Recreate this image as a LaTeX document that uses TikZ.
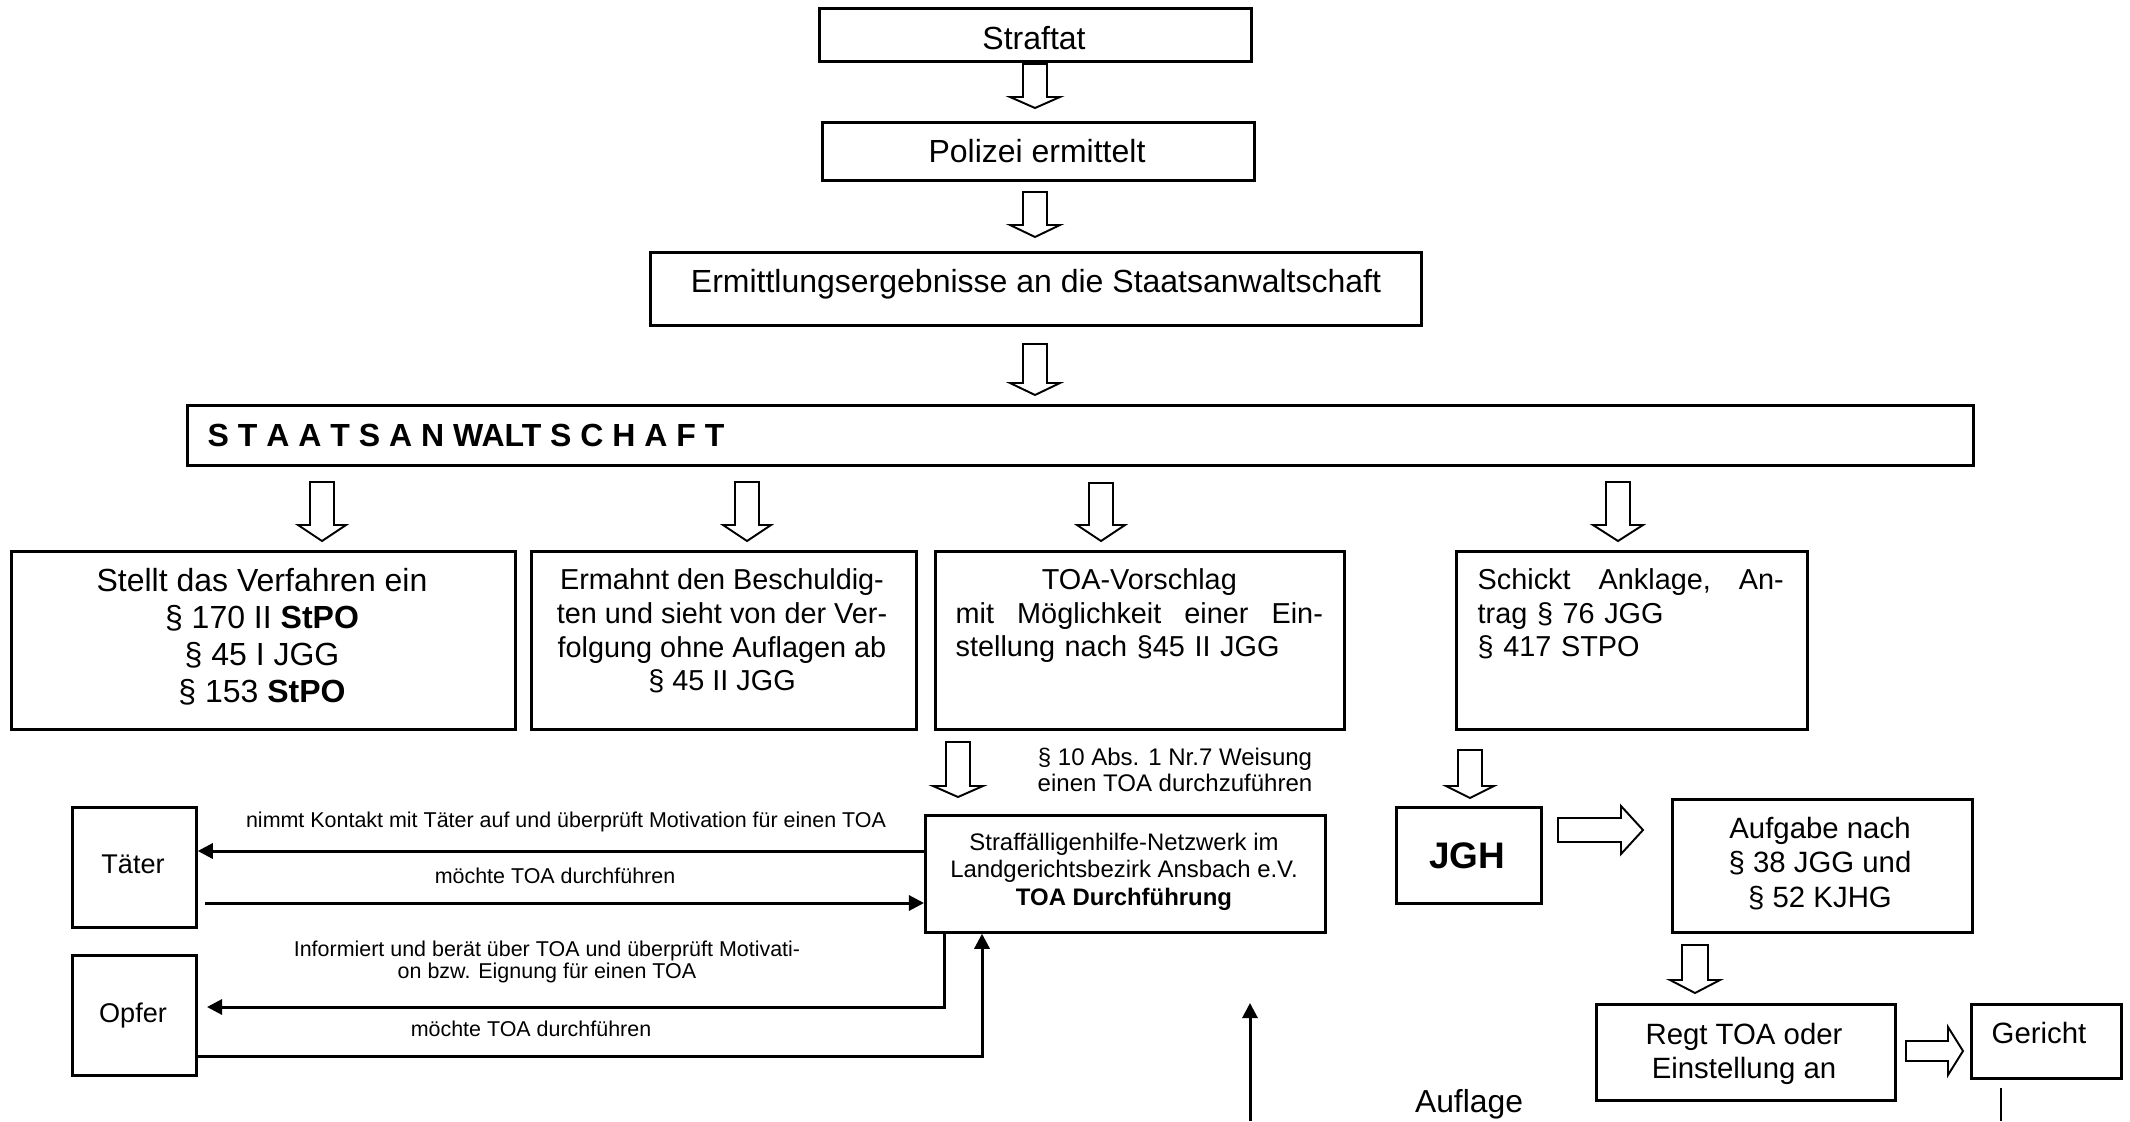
\documentclass[tikz,border=0pt]{standalone}
\usepackage{fontspec}
\setmainfont{Liberation Sans}
\usetikzlibrary{arrows.meta,calc}
\newcommand\fs[2]{\fontsize{#1pt}{#2pt}\selectfont}
% block arrow pointing down: cx, ytop, ytip, shaft half, head half, head length
\newcommand\dnarrow[6]{%
  \draw[blk] (#1-#4,#2) -- (#1+#4,#2) -- (#1+#4,#3-#6) -- (#1+#5,#3-#6) -- (#1,#3)
    -- (#1-#5,#3-#6) -- (#1-#4,#3-#6) -- cycle;}
% block arrow pointing right: xstart, xtip, cy, shaft half, head half, head length
\newcommand\rtarrow[6]{%
  \draw[blk] (#1,#3-#4) -- (#2-#6,#3-#4) -- (#2-#6,#3-#5) -- (#2,#3) -- (#2-#6,#3+#5)
    -- (#2-#6,#3+#4) -- (#1,#3+#4) -- cycle;}
\begin{document}
\begin{tikzpicture}[x=0.01cm,y=-0.01cm,
  box/.style={draw,line width=0.75pt,inner sep=0pt,anchor=north west},
  txt/.style={inner sep=0pt,align=center},
  blk/.style={draw,line width=0.55pt,fill=white,line join=miter},
  conn/.style={line width=0.85pt,-{Triangle[length=4.3pt,width=4.3pt]}},
  thin/.style={line width=0.6pt}]
\useasboundingbox (0,0) rectangle (2130,1121);
\fill[white] (0,0) rectangle (2130,1121);

% ---------- top chain ----------
\node[box,minimum width=4.32cm,minimum height=0.53cm] (straftat) at (818,7) {};
\node[txt,anchor=base,font={\fs{9.1}{10.4}}] (straftatT) at (1034,49) {Straftat};

\node[box,minimum width=4.32cm,minimum height=0.58cm] (polizei) at (821,121) {};
\node[txt,anchor=base,font={\fs{9.1}{10.4}}] (polizeiT) at (1037,162) {Polizei ermittelt};

\node[box,minimum width=7.71cm,minimum height=0.73cm] (ermitt) at (649,251) {};
\node[txt,anchor=base,font={\fs{9.1}{10.4}}] (ermittT) at (1036,292) {Ermittlungsergebnisse an die Staatsanwaltschaft};

\node[box,minimum width=17.85cm,minimum height=0.60cm] (staats) at (186,404) {};
\node[txt,anchor=base west,font={\fs{9.1}{10.4}\bfseries}] (staatsT) at (207,446) {S T A A T S A N WALT S C H A F T};

\dnarrow{1035}{64}{108}{12}{25}{11}
\dnarrow{1035}{192}{237}{12}{25}{12}
\dnarrow{1035}{344}{395}{12}{25}{12}

% ---------- four decisions ----------
\dnarrow{322}{482}{541}{12}{24}{16}
\dnarrow{747}{482}{541}{12}{24}{16}
\dnarrow{1101}{483}{541}{12}{24}{16}
\dnarrow{1618}{482}{541}{12}{25}{16}

\node[box,minimum width=5.04cm,minimum height=1.78cm] (b1) at (10,550) {};
\node[txt,anchor=north,font={\fs{9.1}{10.44}}] (b1T) at (262,568)
  {Stellt das Verfahren ein\\§ 170 II \textbf{StPO}\\§ 45 I JGG\\§ 153 \textbf{StPO}};

\node[box,minimum width=3.85cm,minimum height=1.78cm] (b2) at (530,550) {};
\node[txt,anchor=north,font={\fs{8.2}{9.6}}] (b2T) at (722,568)
  {Ermahnt den Beschuldig-\\ten und sieht von der Ver-\\folgung ohne Auflagen ab\\§ 45 II JGG};

\node[box,minimum width=4.09cm,minimum height=1.78cm] (b3) at (934,550) {};
\node[txt,anchor=north west,text width=3.67cm,align=left,font={\fs{8.2}{9.55}}] (b3T) at (955,568)
  {\makebox[3.67cm][c]{TOA-Vorschlag}\\\makebox[3.67cm][l]{mit\hfill Möglichkeit\hfill einer\hfill Ein-}\\stellung nach §45 II JGG};

\node[box,minimum width=3.51cm,minimum height=1.78cm] (b4) at (1455,550) {};
\node[txt,anchor=north west,text width=3.06cm,align=left,font={\fs{8.2}{9.55}}] (b4T) at (1477,568)
  {\makebox[3.06cm][l]{Schickt\hfill Anklage,\hfill An-}\\trag § 76 JGG\\§ 417 STPO};

% ---------- TOA execution ----------
\dnarrow{958}{742}{797}{12}{25}{11}
\node[txt,anchor=north,font={\fs{6.83}{7.6}}] (weisT) at (1175,747)
  {§ 10 Abs. 1 Nr.7 Weisung\\einen TOA durchzuführen};

\node[box,minimum width=4.00cm,minimum height=1.17cm] (straff) at (924,814) {};
\node[txt,anchor=north,font={\fs{6.8}{7.82}}] (straffT) at (1124,832)
  {Straffälligenhilfe-Netzwerk im\\Landgerichtsbezirk Ansbach e.V.\\\textbf{TOA Durchführung}};

\node[box,minimum width=1.24cm,minimum height=1.20cm] (tater) at (71,806) {};
\node[txt,anchor=base,font={\fs{7.7}{9}}] (taterT) at (133,873) {Täter};

\node[box,minimum width=1.24cm,minimum height=1.20cm] (opfer) at (71,954) {};
\node[txt,anchor=base,font={\fs{7.7}{9}}] (opferT) at (133,1022) {Opfer};

\node[txt,anchor=base,font={\fs{6.1}{6.35}}] (l1) at (566,827)
  {nimmt Kontakt mit Täter auf und überprüft Motivation für einen TOA};
\node[txt,anchor=base,font={\fs{6.1}{6.35}}] (l2) at (555,883) {möchte TOA durchführen};
\node[txt,anchor=north,font={\fs{6.1}{6.35}}] (l3) at (547,940)
  {Informiert und berät über TOA und überprüft Motivati-\\on bzw. Eignung für einen TOA};
\node[txt,anchor=base,font={\fs{6.1}{6.35}}] (l4) at (531,1036) {möchte TOA durchführen};

\draw[conn] (straff.west |- 0,851) -- (tater.east |- 0,851);
\coordinate (t2) at (205,903);
\draw[conn] (t2) -- (straff.west |- t2);
\coordinate (o1) at (207,1007);
\draw[conn] (straff.south -| 944,0) |- (o1);
\coordinate (o2) at (opfer.east |- 0,1056);
\draw[conn] (o2) -| (straff.south -| 982,0);

\coordinate (upA) at (1250,1121);
\coordinate (upB) at (1250,1003);
\draw[conn] (upA) -- (upB);

% ---------- JGH branch ----------
\dnarrow{1470}{750}{798}{12}{24}{12}
\node[box,minimum width=1.45cm,minimum height=0.96cm] (jgh) at (1395,806) {};
\node[txt,anchor=base,font={\fs{10.5}{12}\bfseries}] (jghT) at (1467,868) {JGH};

\rtarrow{1558}{1643}{830}{12}{24}{22}
\node[box,minimum width=3.00cm,minimum height=1.33cm] (aufgabe) at (1671,798) {};
\node[txt,anchor=north,font={\fs{8.35}{9.67}}] (aufgabeT) at (1820,817)
  {Aufgabe nach\\§ 38 JGG und\\§ 52 KJHG};

\dnarrow{1695}{945}{993}{13}{25}{13}
\node[box,minimum width=2.99cm,minimum height=0.96cm] (regt) at (1595,1003) {};
\node[txt,anchor=north,font={\fs{8.35}{9.67}}] (regtT) at (1744,1023)
  {Regt TOA oder\\Einstellung an};

\rtarrow{1906}{1963}{1051}{10}{24}{15}
\node[box,minimum width=1.50cm,minimum height=0.74cm] (gericht) at (1970,1003) {};
\node[txt,anchor=base,font={\fs{8.35}{9.67}}] (gerichtT) at (2039,1043) {Gericht};

\coordinate (g1) at (gericht.south -| 2001,0);
\coordinate (g1b) at ($(g1)+(0,8)$);
\coordinate (g2) at (2001,1121);
\draw[thin] (g1b) -- (g2);

\node[txt,anchor=base,font={\fs{9.05}{10.4}}] (auflageT) at (1469,1112) {Auflage};
\end{tikzpicture}
\end{document}
